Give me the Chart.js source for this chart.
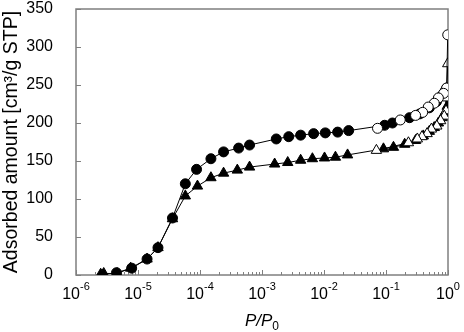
<!DOCTYPE html>
<html>
<head>
<meta charset="utf-8">
<script src="https://cdn.jsdelivr.net/npm/chart.js@4"></script>
<style>
  html, body { margin: 0; padding: 0; background: #fff; }
</style>
</head>
<body>
<canvas id="chart" width="464" height="332"></canvas>
<script>
// sample A (circles): adsorption filled, desorption open
const pA_ads = [4.5e-6, 7.9e-6, 1.4e-5, 2.1e-5, 3.6e-5, 5.8e-5, 8.8e-5, 1.5e-4, 2.4e-4, 4.2e-4, 6.3e-4,
    1.7e-3, 2.7e-3, 4.2e-3, 6.8e-3, 0.0105, 0.0166, 0.025, 0.095, 0.127, 0.24, 0.35, 0.5, 0.65, 0.8, 0.9, 0.96];
const vA_ads = [3, 9, 21, 36, 75, 120, 139, 153, 162, 167, 171,
    179, 182, 184, 186, 187, 188, 190, 197, 200, 207, 212, 220, 228, 236, 242, 246];
const pA_des = [0.99, 0.95, 0.85, 0.70, 0.60, 0.48, 0.39, 0.30, 0.17, 0.073];
const vA_des = [316, 246, 239, 233, 226, 221, 214, 210, 204, 193];

// sample B (triangles)
const pB_ads = [2.5e-6, 2.8e-6, 4.6e-6, 7.6e-6, 1.4e-5, 2.1e-5, 3.6e-5, 5.8e-5, 9.1e-5, 1.5e-4, 2.4e-4, 4.0e-4, 6.3e-4,
    1.6e-3, 2.6e-3, 4.2e-3, 6.5e-3, 0.0102, 0.0153, 0.024, 0.091, 0.132, 0.2, 0.3, 0.4, 0.5, 0.6, 0.7, 0.8, 0.9, 0.97];
const vB_ads = [1, 2, 2, 9, 21, 36, 74, 104, 117, 128, 134, 138, 142,
    146, 148, 151, 153, 154, 155, 158, 166, 168, 172, 177, 183, 189, 194, 200, 207, 213, 222];
const pB_des = [0.99, 0.95, 0.93, 0.87, 0.76, 0.66, 0.54, 0.46, 0.38, 0.32, 0.23, 0.070];
const vB_des = [278, 233, 216, 209, 203, 196, 192, 186, 182, 179, 174, 164];

// axis ticks
const xDecades = [-6, -5, -4, -3, -2, -1, 0];
const yTicks = [0, 50, 100, 150, 200, 250, 300, 350];

const toXY = (xs, ys) => xs.map((x, i) => ({ x: x, y: ys[i] }));

const frameColor = '#7f7f7f';
const fontFam = '"Liberation Sans", Arial, sans-serif';

const axesPlugin = {
    id: 'axesPlugin',
    beforeDatasetsDraw(chart) {
        const c = chart.ctx;
        const a = chart.chartArea;
        const xs = chart.scales.x;
        const ys = chart.scales.y;
        c.save();
        c.strokeStyle = frameColor;
        c.lineWidth = 1.5;
        c.strokeRect(a.left, a.top, a.right - a.left, a.bottom - a.top);

        c.lineWidth = 1;
        c.beginPath();
        // y ticks, inward
        yTicks.forEach(v => {
            const y = Math.round(ys.getPixelForValue(v)) + 0.5;
            c.moveTo(a.left, y);
            c.lineTo(a.left + 5, y);
        });
        // x ticks, inward: decades long, 2..9 short
        xDecades.forEach(e => {
            for (let k = 1; k <= 9; k++) {
                const v = k * Math.pow(10, e);
                if (v > 1) break;
                const x = Math.round(xs.getPixelForValue(v)) + 0.5;
                const len = k === 1 ? 5 : 3;
                c.moveTo(x, a.bottom);
                c.lineTo(x, a.bottom - len);
            }
        });
        c.stroke();
        c.restore();
    },
    afterDraw(chart) {
        const c = chart.ctx;
        const a = chart.chartArea;
        const xs = chart.scales.x;
        c.save();
        c.fillStyle = '#000';
        c.textBaseline = 'alphabetic';
        c.textAlign = 'left';
        // x tick labels 10^n
        xDecades.forEach(e => {
            const x = xs.getPixelForValue(Math.pow(10, e));
            c.font = '16px ' + fontFam;
            const wBase = c.measureText('10').width;
            c.font = '11px ' + fontFam;
            const exp = e < 0 ? '-' + (-e) : String(e);
            const wExp = c.measureText(exp).width;
            const x0 = x - (wBase + wExp) / 2;
            c.font = '16px ' + fontFam;
            c.fillText('10', x0, 299);
            c.font = '11px ' + fontFam;
            c.fillText(exp, x0 + wBase, 290);
        });
        // x title P/P0
        const cx = (a.left + a.right) / 2;
        c.font = 'italic 17px ' + fontFam;
        const wP = c.measureText('P/P').width;
        c.font = '12px ' + fontFam;
        const wS = c.measureText('0').width;
        const t0 = cx - (wP + wS) / 2;
        c.font = 'italic 17px ' + fontFam;
        c.fillText('P/P', t0, 326);
        c.font = '12px ' + fontFam;
        c.fillText('0', t0 + wP, 330);
        c.restore();
    }
};

const ctx = document.getElementById('chart').getContext('2d');

const isotherm = new Chart(ctx, {
    type: 'scatter',
    data: {
        datasets: [{
            label: 'A desorption',
            data: toXY(pA_des, vA_des),
            pointStyle: 'circle',
            pointRadius: 5,
            backgroundColor: '#fff'
        }, {
            label: 'B desorption',
            data: toXY(pB_des, vB_des),
            pointStyle: 'triangle',
            pointRadius: 6,
            backgroundColor: '#fff'
        }, {
            label: 'A adsorption',
            data: toXY(pA_ads, vA_ads),
            pointStyle: 'circle',
            pointRadius: 5,
            backgroundColor: '#000'
        }, {
            label: 'B adsorption',
            data: toXY(pB_ads, vB_ads),
            pointStyle: 'triangle',
            pointRadius: 6,
            backgroundColor: '#000'
        }].map(ds => Object.assign(ds, {
            showLine: true,
            borderColor: '#000',
            borderWidth: 1,
            pointBorderColor: '#000',
            pointBorderWidth: 1,
            pointBackgroundColor: ds.backgroundColor
        }))
    },
    options: {
        responsive: false,
        animation: false,
        layout: { padding: { top: 9, right: 16, left: 0, bottom: 0 } },
        plugins: {
            legend: { display: false },
            tooltip: { enabled: false }
        },
        scales: {
            x: {
                type: 'logarithmic',
                min: 1e-6,
                max: 1,
                grid: { display: false },
                border: { display: false },
                ticks: { display: false },
                afterFit(scale) { scale.height = 57; }
            },
            y: {
                min: 0,
                max: 350,
                grid: { display: false, drawTicks: false },
                border: { display: false },
                ticks: {
                    stepSize: 50,
                    padding: 23,
                    color: '#000',
                    font: { family: fontFam, size: 16 }
                },
                title: {
                    display: true,
                    text: 'Adsorbed amount [cm³/g STP]',
                    color: '#000',
                    padding: { top: 0, bottom: 0 },
                    font: { family: fontFam, size: 19.5 }
                },
                afterFit(scale) {
                    scale.width = 76;
                    scale.paddingTop = 0;
                    scale.paddingBottom = 0;
                }
            }
        }
    },
    plugins: [axesPlugin]
});
</script>
</body>
</html>
